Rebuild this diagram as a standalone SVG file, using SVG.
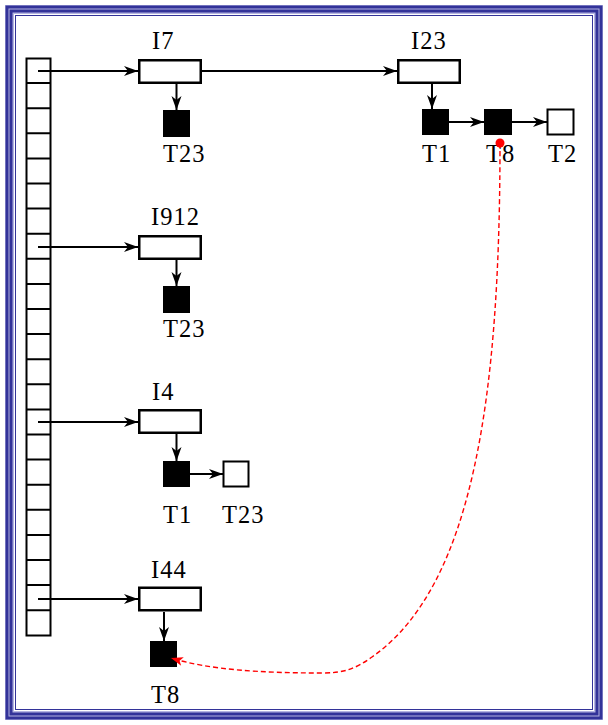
<svg xmlns="http://www.w3.org/2000/svg" width="608" height="725" viewBox="0 0 608 725">
<style>
.lbl{font-family:"Liberation Serif","Times New Roman",serif;font-size:24.5px;letter-spacing:1px;fill:#000}
.box{fill:#fff;stroke:#000;stroke-width:2.5}
.blk{fill:#000;stroke:#000;stroke-width:1}
.wht{fill:#fff;stroke:#000;stroke-width:2}
.conn{stroke:#000;stroke-width:2;fill:none}
.red{stroke:#ff0000;stroke-width:1.4;fill:none;stroke-dasharray:5 3}
</style>
<defs>
<marker id="ah" markerUnits="userSpaceOnUse" markerWidth="16" markerHeight="12" viewBox="-15 -6 16 12" refX="0" refY="0" orient="auto" overflow="visible">
<path d="M0,0 L-14,-5 L-10,0 L-14,5 Z" fill="#000"/>
</marker>
<marker id="ahr" markerUnits="userSpaceOnUse" markerWidth="16" markerHeight="12" viewBox="-15 -6 16 12" refX="0" refY="0" orient="auto" overflow="visible">
<path d="M0,0 L-12,-4.5 L-9,0 L-12,4.5 Z" fill="#ff0000"/>
</marker>
</defs>
<rect x="0" y="0" width="608" height="725" fill="#fff"/>
<g id="frame">
<rect x="5" y="5" width="598" height="715" fill="#b4b4e0"/>
<rect x="14" y="14" width="580" height="697" fill="#fff"/>
<rect x="7" y="7" width="594" height="711" fill="none" stroke="#333399" stroke-width="3"/>
<rect x="11" y="11" width="586" height="703" fill="none" stroke="#333399" stroke-width="3"/>
<rect x="15.5" y="15.5" width="577" height="694" fill="none" stroke="#333399" stroke-width="1"/>
</g>
<g id="table">
<rect x="26.5" y="58.5" width="24" height="577" fill="#fff" stroke="#000" stroke-width="2"/>
<path d="M26,83.1H51M26,108.2H51M26,133.3H51M26,158.4H51M26,183.5H51M26,208.6H51M26,233.7H51M26,258.8H51M26,283.9H51M26,309H51M26,334.1H51M26,359.2H51M26,384.3H51M26,409.4H51M26,434.5H51M26,459.6H51M26,484.7H51M26,509.8H51M26,534.9H51M26,560H51M26,585.1H51M26,610.2H51" stroke="#000" stroke-width="2" fill="none"/>
</g>
<g id="I7">
<rect class="box" x="139.25" y="60.25" width="61.5" height="22.5"/>
<text class="lbl" x="152" y="49">I7</text>
</g>
<g id="I7_T23">
<rect class="blk" x="163.5" y="110.5" width="26" height="26"/>
<text class="lbl" x="163" y="162">T23</text>
</g>
<g id="I23">
<rect class="box" x="398.25" y="60.25" width="61.5" height="22.5"/>
<text class="lbl" x="411" y="49">I23</text>
</g>
<g id="I23_T1">
<rect class="blk" x="422.5" y="109.5" width="26" height="25"/>
<text class="lbl" x="422" y="162">T1</text>
</g>
<g id="I23_T8">
<rect class="blk" x="484.5" y="109.5" width="27" height="25"/>
<text class="lbl" x="486" y="162">T8</text>
</g>
<g id="I23_T2">
<rect class="wht" x="547.5" y="109.5" width="26" height="25"/>
<text class="lbl" x="548" y="162">T2</text>
</g>
<g id="I912">
<rect class="box" x="139.25" y="236.25" width="61.5" height="22.5"/>
<text class="lbl" x="151" y="225">I912</text>
</g>
<g id="I912_T23">
<rect class="blk" x="163.5" y="286.5" width="26" height="26"/>
<text class="lbl" x="163" y="337">T23</text>
</g>
<g id="I4">
<rect class="box" x="139.25" y="410.25" width="61.5" height="22.5"/>
<text class="lbl" x="152" y="400">I4</text>
</g>
<g id="I4_T1">
<rect class="blk" x="163.5" y="461.5" width="26" height="25"/>
<text class="lbl" x="163" y="523">T1</text>
</g>
<g id="I4_T23">
<rect class="wht" x="223.5" y="461.5" width="25" height="25"/>
<text class="lbl" x="222" y="523">T23</text>
</g>
<g id="I44">
<rect class="box" x="139.25" y="587.75" width="61.5" height="22.5"/>
<text class="lbl" x="151" y="578">I44</text>
</g>
<g id="I44_T8">
<rect class="blk" x="150.5" y="641.5" width="26" height="25"/>
<text class="lbl" x="151" y="703">T8</text>
</g>
<g id="connectors">
<line class="conn" x1="38" y1="71" x2="138" y2="71" marker-end="url(#ah)"/>
<line class="conn" x1="38" y1="247" x2="138" y2="247" marker-end="url(#ah)"/>
<line class="conn" x1="38" y1="422" x2="138" y2="422" marker-end="url(#ah)"/>
<line class="conn" x1="38" y1="599" x2="138" y2="599" marker-end="url(#ah)"/>
<line class="conn" x1="202" y1="71" x2="397" y2="71" marker-end="url(#ah)"/>
<line class="conn" x1="176.5" y1="84" x2="176.5" y2="110" marker-end="url(#ah)"/>
<line class="conn" x1="432" y1="84" x2="432" y2="109" marker-end="url(#ah)"/>
<line class="conn" x1="449" y1="122" x2="484" y2="122" marker-end="url(#ah)"/>
<line class="conn" x1="512" y1="122" x2="547" y2="122" marker-end="url(#ah)"/>
<line class="conn" x1="176.5" y1="260" x2="176.5" y2="286" marker-end="url(#ah)"/>
<line class="conn" x1="176.5" y1="434" x2="176.5" y2="461" marker-end="url(#ah)"/>
<line class="conn" x1="190" y1="474" x2="223" y2="474" marker-end="url(#ah)"/>
<line class="conn" x1="164" y1="612" x2="164" y2="641" marker-end="url(#ah)"/>
<path class="red" d="M500,143 C500,390 475,585 372,657 C354,670 342,673 322,673 C262,673 210,670 171,658" marker-end="url(#ahr)"/>
<circle cx="500" cy="143" r="4.5" fill="#ff0000"/>
</g>
</svg>
